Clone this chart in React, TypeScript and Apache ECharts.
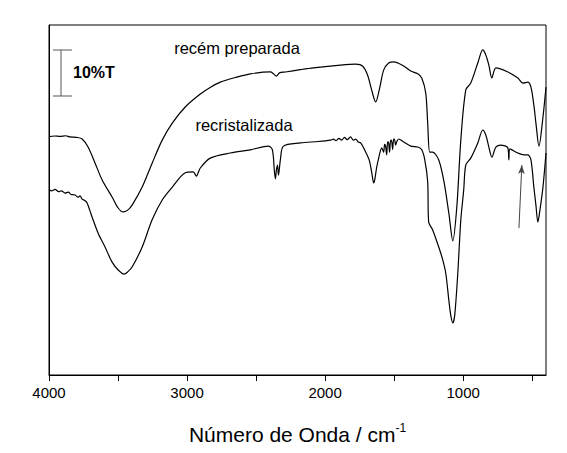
import React, { useEffect, useRef } from "react";
import * as echarts from "echarts";

const FONT = "'Liberation Sans', Arial, sans-serif";

const majorTicks = [4000, 3000, 2000, 1000];
const allTicks = [4000, 3500, 3000, 2500, 2000, 1500, 1000, 500];

// [wavenumber (cm-1), %T offset]
const recemPreparada: [number, number][] = [
  [4000, 51.75], [3960, 51.9], [3920, 51.8], [3880, 51.95], [3848, 51.7], [3800, 51.6], [3760, 51.25],
  [3717, 49.5], [3666, 46.0], [3615, 42.35], [3543, 38.65], [3499, 36.26], [3463, 35.4],
  [3430, 35.8], [3398, 36.9], [3325, 40.8], [3253, 46.0], [3180, 51.0], [3107, 54.7],
  [3013, 58.2], [2904, 61.0], [2830, 62.5], [2759, 63.6], [2650, 64.6], [2541, 65.4], [2396, 65.8],
  [2374, 65.4], [2353, 64.9], [2331, 65.6], [2287, 65.8], [2180, 66.3], [2084, 66.7], [1888, 67.3],
  [1779, 67.5], [1729, 67.1], [1692, 65.1], [1663, 61.9], [1634, 59.3], [1605, 62.3],
  [1576, 66.2], [1540, 67.75], [1504, 68.0], [1431, 67.1], [1380, 66.0], [1329, 65.4],
  [1300, 64.5], [1271, 61.2], [1257, 54.7], [1242, 48.4], [1221, 48.4], [1177, 46.7],
  [1141, 42.3], [1104, 35.2], [1075, 29.1], [1046, 36.5], [1017, 51.0], [981, 61.9],
  [945, 63.4], [894, 67.75], [858, 70.6], [836, 69.5], [814, 67.3], [792, 64.5], [763, 66.7],
  [676, 65.8], [604, 64.5], [567, 63.4], [531, 63.6], [509, 62.5], [488, 58.6], [473, 54.7],
  [451, 49.7], [422, 56.0], [400, 62.5],
];

const recristalizada: [number, number][] = [
  [4000, 40.2], [3978, 40.0], [3956, 40.3], [3930, 39.8], [3910, 40.0], [3884, 39.5], [3860, 39.7],
  [3840, 39.2], [3811, 39.1], [3790, 38.6], [3775, 38.9], [3760, 38.2], [3740, 37.9], [3724, 37.35],
  [3705, 35.8], [3688, 34.3], [3644, 30.8], [3594, 27.8], [3543, 24.5], [3499, 22.8],
  [3456, 21.9], [3430, 22.4], [3398, 23.45], [3325, 27.8], [3253, 33.7], [3180, 38.0],
  [3107, 40.8], [3013, 43.9], [2955, 44.1], [2933, 43.2], [2904, 44.95], [2832, 47.1],
  [2686, 48.2], [2541, 48.9], [2411, 49.7], [2382, 48.9], [2367, 44.1], [2360, 42.6],
  [2353, 44.5], [2345, 45.6], [2338, 43.4], [2324, 46.7], [2302, 49.7], [2179, 50.4],
  [2050, 50.7], [1960, 51.0], [1939, 51.2], [1920, 50.9], [1900, 51.4], [1880, 51.0], [1860, 51.6],
  [1840, 51.1], [1816, 51.7], [1795, 51.0], [1779, 51.2], [1760, 50.6], [1743, 50.4], [1714, 48.9],
  [1681, 46.7], [1663, 44.1], [1648, 41.7], [1641, 42.3], [1627, 45.0], [1612, 47.1],
  [1590, 49.3], [1576, 48.4], [1569, 50.1], [1562, 49.7], [1554, 47.8], [1547, 50.6],
  [1540, 50.4], [1533, 48.4], [1525, 51.0], [1518, 50.8], [1511, 49.0], [1503, 51.3],
  [1496, 51.0], [1489, 49.9], [1482, 50.6], [1467, 51.25], [1431, 50.6], [1380, 49.7],
  [1329, 49.5], [1300, 48.9], [1278, 46.7], [1257, 41.9], [1250, 33.2], [1221, 31.5],
  [1177, 27.8], [1148, 25.0], [1126, 22.1], [1104, 16.3], [1090, 13.0], [1075, 11.3],
  [1061, 13.0], [1039, 22.1], [1017, 33.7], [996, 40.2], [981, 45.6], [945, 47.1],
  [894, 50.4], [858, 53.2], [836, 52.1], [814, 49.5], [792, 47.3], [763, 49.5], [727, 49.9],
  [676, 49.3], [669, 46.7], [662, 49.1], [604, 48.2], [560, 47.8], [531, 47.8], [509, 46.7],
  [488, 40.8], [473, 36.9], [459, 33.2], [444, 35.8], [422, 40.8], [400, 48.2],
];

const arrowFrom: [number, number] = [596, 31.9];
const arrowTo: [number, number] = [575, 45.6];

export default function App() {
  const ref = useRef<HTMLDivElement>(null);
  useEffect(() => {
    const chart = echarts.init(ref.current!, null, { renderer: "svg" });
    const lineSeries = (name: string, data: [number, number][]) => ({
      type: "line",
      name,
      data,
      showSymbol: false,
      symbol: "none",
      smooth: 0.3,
      lineStyle: { color: "#000", width: 1.2 },
    });
    chart.setOption({
      animation: false,
      backgroundColor: "#fff",
      grid: { left: 49, right: 21, top: 25, bottom: 78, show: true, borderColor: "#000", borderWidth: 1 },
      xAxis: {
        type: "value",
        min: 400,
        max: 4000,
        inverse: true,
        axisLine: { show: true, onZero: false, lineStyle: { color: "#000", width: 1 } },
        axisTick: { show: true, customValues: allTicks, length: 6, lineStyle: { color: "#000" } },
        axisLabel: {
          customValues: majorTicks,
          formatter: (v: number) => String(v),
          fontSize: 15,
          color: "#000",
          margin: 10,
          fontFamily: FONT,
        },
        splitLine: { show: false },
        name: "{a|Número de Onda / cm}{s|-1}",
        nameLocation: "middle",
        nameGap: 47,
        nameTextStyle: {
          rich: {
            a: { fontSize: 21, fontFamily: FONT, color: "#000", lineHeight: 24 },
            s: { fontSize: 12, fontFamily: FONT, color: "#000", verticalAlign: "top", lineHeight: 24 },
          },
        },
      },
      yAxis: {
        type: "value",
        min: 0,
        max: 76,
        axisLine: { show: true, lineStyle: { color: "#000", width: 1 } },
        axisTick: { show: false },
        axisLabel: { show: false },
        splitLine: { show: false },
      },
      series: [
        lineSeries("recém preparada", recemPreparada),
        {
          ...lineSeries("recristalizada", recristalizada),
          markLine: {
            silent: true,
            symbol: ["none", "arrow"],
            symbolSize: [5, 9],
            label: { show: false },
            lineStyle: { color: "#444", width: 1, type: "solid" },
            data: [[{ coord: arrowFrom }, { coord: arrowTo }]],
          },
        },
      ],
      graphic: [
        { type: "line", shape: { x1: 61, y1: 50, x2: 61, y2: 96 }, style: { stroke: "#555", lineWidth: 1 } },
        { type: "line", shape: { x1: 53, y1: 50, x2: 72, y2: 50 }, style: { stroke: "#555", lineWidth: 1 } },
        { type: "line", shape: { x1: 53, y1: 96, x2: 72, y2: 96 }, style: { stroke: "#555", lineWidth: 1 } },
        {
          type: "text",
          x: 73,
          y: 72,
          style: { text: "10%T", font: `bold 16px ${FONT}`, fill: "#000", verticalAlign: "middle", align: "left" },
        },
        {
          type: "text",
          x: 237,
          y: 48,
          style: { text: "recém preparada", font: `16.5px ${FONT}`, fill: "#000", verticalAlign: "middle", align: "center" },
        },
        {
          type: "text",
          x: 244,
          y: 125,
          style: { text: "recristalizada", font: `16.5px ${FONT}`, fill: "#000", verticalAlign: "middle", align: "center" },
        },
      ],
    });
    return () => chart.dispose();
  }, []);
  return (
    <div
      ref={ref}
      style={{ position: "fixed", left: 0, top: 0, width: 567, height: 453, background: "#fff" }}
    />
  );
}
